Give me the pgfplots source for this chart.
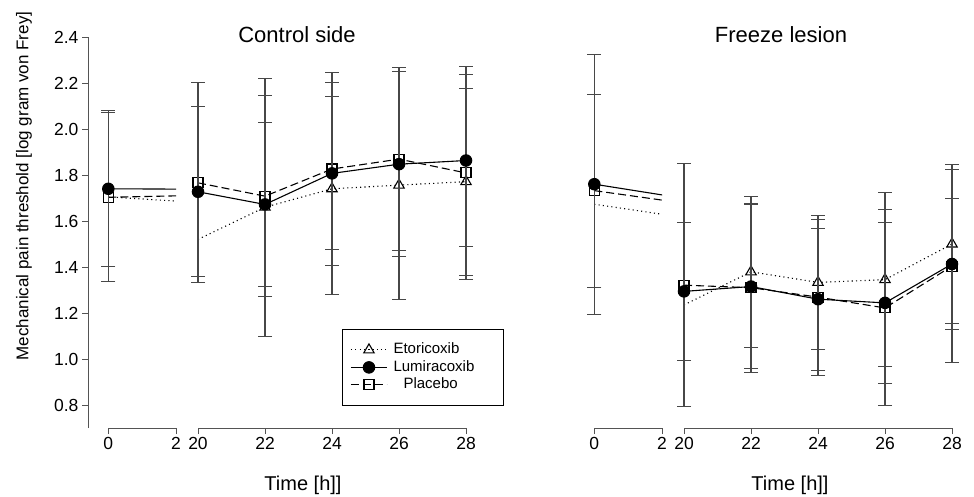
\documentclass[border=0pt]{standalone}
\usepackage{fontspec}
\setmainfont{Liberation Sans}
\usepackage{pgfplots}
\usepackage{pgfplotstable}
\pgfplotsset{compat=1.18}

\definecolor{axcol}{gray}{0.33}
\definecolor{errcol}{gray}{0.28}

% control side: time, mean, half-width of the bar
\pgfplotstableread{
t  m     e
0  1.705 0
20 1.520 0
22 1.660 0.560
24 1.740 0.460
26 1.756 0.496
28 1.771 0.406
}\ctrlEto
\pgfplotstableread{
t  m     e
0  1.740 0.340
20 1.727 0.369
22 1.672 0.358
24 1.807 0.333
26 1.847 0.402
28 1.863 0.372
}\ctrlLum
\pgfplotstableread{
t  m     e
0  1.703 0.368
20 1.766 0.434
22 1.708 0.437
24 1.826 0.420
26 1.869 0.399
28 1.809 0.462
}\ctrlPla

% freeze lesion
\pgfplotstableread{
t  m     e
0  1.673 0
20 1.235 0
22 1.379 0.328
24 1.333 0.290
26 1.345 0.378
28 1.500 0.345
}\frzEto
\pgfplotstableread{
t  m     e
0  1.760 0.566
20 1.294 0.301
22 1.315 0.358
24 1.260 0.308
26 1.244 0.350
28 1.413 0.284
}\frzLum
\pgfplotstableread{
t  m     e
0  1.732 0.420
20 1.321 0.528
22 1.310 0.368
24 1.269 0.339
26 1.222 0.426
28 1.404 0.418
}\frzPla

\pgfplotsset{
  seg/.style={
    anchor=south west, y=230pt, ymin=0.7, ymax=2.4,
    axis x line*=bottom, axis y line*=left,
    axis line style={axcol, line width=0.9pt, -},
    tick style={axcol, line width=0.9pt},
    tick align=outside, major tick length=6pt,
    tick label style={font=\fontsize{17.5}{20}\selectfont},
    /pgf/number format/assume math mode=true,
    clip mode=individual, clip marker paths=true,
  },
  noy/.style={y axis line style={draw=none}, ytick=\empty},
  segA/.style={seg, xmin=-0.6, xmax=2, x=33.85pt, xtick={0,2},
    x axis line style={shorten <=20.31pt}},
  segB/.style={seg, noy, xmin=19.4, xmax=28.6, x=33.5pt, xtick={20,22,...,28},
    x axis line style={shorten <=20.1pt, shorten >=20.1pt}},
  errs/.style={
    /pgfplots/error bars/y dir=both,
    /pgfplots/error bars/y explicit,
    /pgfplots/error bars/error bar style={errcol, line width=1.1pt, solid},
    /pgfplots/error bars/error mark options={rotate=90, errcol, line width=1pt, mark size=7pt, solid}},
  eto/.style={black, line width=1.1pt, dash pattern=on 1.1pt off 3.2pt,
    mark=triangle, mark size=6pt, mark options={solid, fill=none}},
  lum/.style={black, line width=1.1pt, solid,
    mark=*, mark size=5.7pt, mark options={solid, fill=black}},
  pla/.style={black, line width=1.1pt, dash pattern=on 8pt off 4pt,
    mark=square, mark size=5pt, mark options={solid, fill=none}},
}

\begin{document}
\begin{tikzpicture}
\useasboundingbox (0pt,0pt) rectangle (974pt,496pt);

% ---- control side, hours 0-2
\begin{axis}[segA, at={(88pt,68pt)},
  ytick={0.8,1,1.2,1.4,1.6,1.8,2,2.2,2.4},
  yticklabel style={/pgf/number format/.cd, fixed, fixed zerofill, precision=1}]
\addplot[eto, no marks] table[x=t, y=m] {\ctrlEto};
\addplot[pla, errs] table[x=t, y=m, y error=e] {\ctrlPla};
\addplot[lum, errs] table[x=t, y=m, y error=e] {\ctrlLum};
\end{axis}

% ---- control side, hours 20-28
\begin{axis}[segB, at={(177.9pt,68pt)},
  legend style={at={(0.5325,0.2532)}, anchor=north west, draw=black,
    line width=0.8pt, fill=white, font=\fontsize{15}{18}\selectfont,
    inner xsep=8pt, inner ysep=11pt, row sep=-1.5pt,
    nodes={inner ysep=2.5pt, text height=11pt, text depth=3pt},
    /tikz/every odd column/.append style={column sep=4pt}},
  legend cell align=left,
  legend image code/.code={\draw[mark repeat=2, mark phase=2]
    plot coordinates {(0pt,0pt) (18pt,0pt) (36pt,0pt)};}]
\addlegendimage{eto}
\addlegendentry{\makebox[100pt][l]{Etoricoxib}}
\addlegendimage{lum}
\addlegendentry{\makebox[100pt][l]{Lumiracoxib}}
\addlegendimage{pla}
\addlegendentry{\makebox[100pt][l]{\hspace{10pt}Placebo}}
\addplot[eto, no marks, forget plot, restrict x to domain=19:29] table[x=t, y=m] {\ctrlEto};
\addplot[eto, only marks, forget plot, restrict x to domain=21:29, errs] table[x=t, y=m, y error=e] {\ctrlEto};
\addplot[pla, forget plot, restrict x to domain=19:29, errs] table[x=t, y=m, y error=e] {\ctrlPla};
\addplot[lum, forget plot, restrict x to domain=19:29, errs] table[x=t, y=m, y error=e] {\ctrlLum};
\end{axis}

% ---- freeze lesion, hours 0-2
\begin{axis}[segA, noy, at={(574pt,68pt)}]
\addplot[eto, no marks] table[x=t, y=m] {\frzEto};
\addplot[pla, errs] table[x=t, y=m, y error=e] {\frzPla};
\addplot[lum, errs] table[x=t, y=m, y error=e] {\frzLum};
\end{axis}

% ---- freeze lesion, hours 20-28
\begin{axis}[segB, at={(663.9pt,68pt)}]
\addplot[eto, no marks, restrict x to domain=19:29] table[x=t, y=m] {\frzEto};
\addplot[eto, only marks, restrict x to domain=21:29, errs] table[x=t, y=m, y error=e] {\frzEto};
\addplot[pla, restrict x to domain=19:29, errs] table[x=t, y=m, y error=e] {\frzPla};
\addplot[lum, restrict x to domain=19:29, errs] table[x=t, y=m, y error=e] {\frzLum};
\end{axis}

\node[font=\fontsize{22}{26}\selectfont, anchor=base] at (297pt,453pt) {Control side};
\node[font=\fontsize{22}{26}\selectfont, anchor=base] at (781pt,453pt) {Freeze lesion};
\node[font=\fontsize{20}{24}\selectfont, anchor=base] at (303pt,6pt) {Time [h]]};
\node[font=\fontsize{20}{24}\selectfont, anchor=base] at (790pt,6pt) {Time [h]]};
\node[font=\fontsize{17}{20}\selectfont, rotate=90, anchor=center] at (24pt,310pt)
  {Mechanical pain threshold [log gram von Frey]};
\end{tikzpicture}
\end{document}
